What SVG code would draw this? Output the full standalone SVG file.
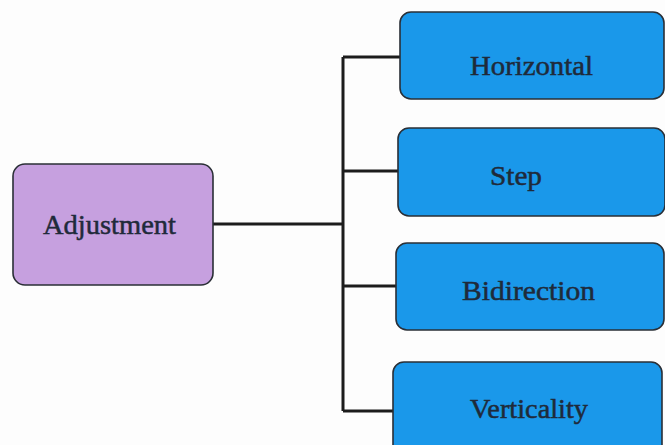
<svg xmlns="http://www.w3.org/2000/svg" width="665" height="445" viewBox="0 0 665 445">
  <style>
    .box { stroke: #2a2f36; stroke-width: 1.6; }
    .root { fill: #c6a0df; }
    .leaf { fill: #1a98ea; }
    .label { font-family: "Liberation Serif", "Times New Roman", serif; font-size: 28px; fill: #1f2a3a; stroke: #1f2a3a; stroke-width: 0.5; }
    .wire { fill: none; stroke: #1c1c1c; stroke-width: 3; }
  </style>
  <rect width="665" height="445" fill="#fdfdfd"/>
  <g id="connectors">
    <path class="wire" d="M213 224 H343"/>
    <path class="wire" d="M343 57 V411"/>
    <path class="wire" d="M343 57 H400"/>
    <path class="wire" d="M343 171 H398"/>
    <path class="wire" d="M343 286 H396"/>
    <path class="wire" d="M343 411 H393"/>
  </g>
  <g id="adjustment">
    <rect class="box root" x="13" y="164" width="200" height="121" rx="12"/>
    <text class="label" x="43" y="234" textLength="133" lengthAdjust="spacingAndGlyphs">Adjustment</text>
  </g>
  <g id="horizontal">
    <rect class="box leaf" x="400" y="12" width="264" height="87" rx="11"/>
    <text class="label" x="470" y="75" textLength="123" lengthAdjust="spacingAndGlyphs">Horizontal</text>
  </g>
  <g id="step">
    <rect class="box leaf" x="398" y="128" width="267" height="88" rx="11"/>
    <text class="label" x="490" y="185" textLength="52" lengthAdjust="spacingAndGlyphs">Step</text>
  </g>
  <g id="bidirection">
    <rect class="box leaf" x="396" y="243" width="268" height="87" rx="11"/>
    <text class="label" x="462" y="300" textLength="133" lengthAdjust="spacingAndGlyphs">Bidirection</text>
  </g>
  <g id="verticality">
    <rect class="box leaf" x="393" y="362" width="269" height="95" rx="11"/>
    <text class="label" x="470" y="418" textLength="118" lengthAdjust="spacingAndGlyphs">Verticality</text>
  </g>
</svg>
